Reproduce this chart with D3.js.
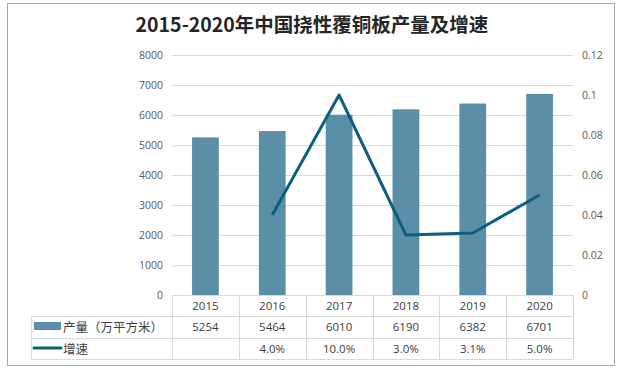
<!DOCTYPE html>
<html>
<head>
<meta charset="utf-8">
<script src="https://cdn.jsdelivr.net/npm/d3@7"></script>
<style>
  body { margin: 0; background: #fff; }
  text { font-family: "Open Sans", "Liberation Sans", "Noto Sans CJK SC", sans-serif; }
</style>
</head>
<body>
<svg id="chart" width="623" height="373"></svg>
<script>
const years = ["2015", "2016", "2017", "2018", "2019", "2020"]
const output = [5254, 5464, 6010, 6190, 6382, 6701]
const growth = [null, 0.04, 0.10, 0.03, 0.031, 0.05]
const growthLabels = ["", "4.0%", "10.0%", "3.0%", "3.1%", "5.0%"]
const leftTicks = [0, 1000, 2000, 3000, 4000, 5000, 6000, 7000, 8000]
const rightTicks = [0, 0.02, 0.04, 0.06, 0.08, 0.1, 0.12]

const svg = d3.select("#chart")
const cjk = "\"Noto Sans CJK SC\", sans-serif"

//frame
svg.append("rect").attr("x", 7.5).attr("y", 3.5).attr("width", 607).attr("height", 362)
  .attr("fill", "none").attr("stroke", "#a6a6a6")

svg.append("text").attr("x", 312).attr("y", 32).attr("text-anchor", "middle")
  .attr("font-size", 19.5).attr("font-weight", "bold").attr("fill", "#262626")
  .style("font-family", cjk).text("2015-2020年中国挠性覆铜板产量及增速")

let pLeft = 172, pRight = 573, pTop = 55, pBottom = 295

let x = d3.scaleBand().domain(years).range([pLeft, pRight])
let yL = d3.scaleLinear().domain([0, 8000]).range([pBottom, pTop])
let yR = d3.scaleLinear().domain([0, 0.12]).range([pBottom, pTop])

//grid
svg.append("g").selectAll("line").data(leftTicks.slice(1)).enter().append("line")
  .attr("x1", pLeft).attr("x2", pRight)
  .attr("y1", d => yL(d) + 0.5).attr("y2", d => yL(d) + 0.5)
  .attr("stroke", "#d9d9d9")

//left axis labels
svg.append("g").selectAll("text").data(leftTicks).enter().append("text")
  .attr("x", 163).attr("y", d => yL(d) + 4).attr("text-anchor", "end")
  .attr("font-size", 10.5).attr("fill", "#595959").text(d => d)

//right axis labels
svg.append("g").selectAll("text").data(rightTicks).enter().append("text")
  .attr("x", 582).attr("y", d => yR(d) + 4).attr("text-anchor", "start")
  .attr("font-size", 10.5).attr("fill", "#595959").text(d => d)

//bars
let bw = x.bandwidth() * 0.4
svg.append("g").selectAll("rect").data(output).enter().append("rect")
  .attr("x", (d, i) => x(years[i]) + x.bandwidth() / 2 - bw / 2)
  .attr("width", bw)
  .attr("y", d => yL(d)).attr("height", d => pBottom - yL(d))
  .attr("fill", "#5b8fa8")

//line
let pts = growth.map((g, i) => [x(years[i]) + x.bandwidth() / 2, g]).filter(p => p[1] !== null)
svg.append("path").datum(pts)
  .attr("d", d3.line().x(d => d[0]).y(d => yR(d[1])))
  .attr("fill", "none").attr("stroke", "#0e5f7f").attr("stroke-width", 3)
  .attr("stroke-linejoin", "round")

//data table
let tLeft = 31, rows = [295, 316, 338, 359]
let tbl = svg.append("g").attr("stroke", "#d9d9d9").attr("fill", "none")
tbl.append("line").attr("x1", pLeft).attr("x2", pRight).attr("y1", rows[0] + 0.5).attr("y2", rows[0] + 0.5)
rows.slice(1).forEach(r => {
  tbl.append("line").attr("x1", tLeft).attr("x2", pRight).attr("y1", r + 0.5).attr("y2", r + 0.5)
})
tbl.append("line").attr("x1", tLeft + 0.5).attr("x2", tLeft + 0.5).attr("y1", rows[1]).attr("y2", rows[3])
years.forEach(y => {
  tbl.append("line").attr("x1", Math.round(x(y)) + 0.5).attr("x2", Math.round(x(y)) + 0.5).attr("y1", rows[0]).attr("y2", rows[3])
})
tbl.append("line").attr("x1", pRight + 0.5).attr("x2", pRight + 0.5).attr("y1", rows[0]).attr("y2", rows[3])

let cx = (y) => x(y) + x.bandwidth() / 2
svg.append("g").selectAll("text").data(years).enter().append("text")
  .attr("x", d => cx(d)).attr("y", 310).attr("text-anchor", "middle")
  .attr("font-size", 11.5).attr("fill", "#404040").text(d => d)
svg.append("g").selectAll("text").data(output).enter().append("text")
  .attr("x", (d, i) => cx(years[i])).attr("y", 331).attr("text-anchor", "middle")
  .attr("font-size", 11.5).attr("fill", "#404040").text(d => d)
svg.append("g").selectAll("text").data(growthLabels).enter().append("text")
  .attr("x", (d, i) => cx(years[i])).attr("y", 353).attr("text-anchor", "middle")
  .attr("font-size", 11.5).attr("fill", "#404040").text(d => d)

//legend keys
svg.append("rect").attr("x", 34).attr("y", 322).attr("width", 27).attr("height", 8).attr("fill", "#5b8fa8")
svg.append("line").attr("x1", 34).attr("x2", 61).attr("y1", 348).attr("y2", 348)
  .attr("stroke", "#0e5f7f").attr("stroke-width", 3).attr("stroke-linecap", "round")
svg.append("text").attr("x", 63).attr("y", 332).attr("font-size", 12.5).attr("fill", "#404040")
  .style("font-family", cjk).text("产量（万平方米）")
svg.append("text").attr("x", 63).attr("y", 354).attr("font-size", 12.5).attr("fill", "#404040")
  .style("font-family", cjk).text("增速")
</script>
</body>
</html>
